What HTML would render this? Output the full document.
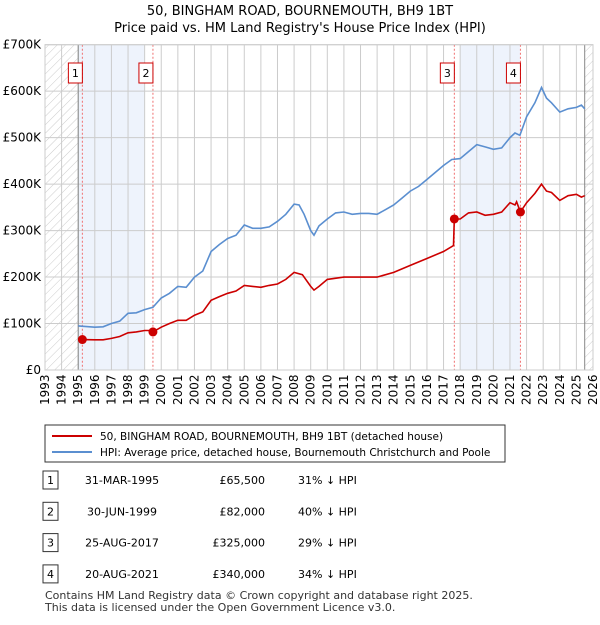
<!DOCTYPE html>
<html><head><meta charset="utf-8"><style>
body{margin:0;background:#fff;font-family:"Liberation Sans","DejaVu Sans",sans-serif;}
svg text{font-family:"DejaVu Sans","Liberation Sans",sans-serif;}
</style></head><body>
<svg id="c" width="600" height="620" xmlns="http://www.w3.org/2000/svg">
<defs><pattern id="hatch" width="6" height="6" patternUnits="userSpaceOnUse" patternTransform="rotate(45)"><line x1="0" y1="0" x2="0" y2="6" stroke="#ccc" stroke-width="1"/></pattern></defs>
<text x="300" y="15" text-anchor="middle" font-size="13">50, BINGHAM ROAD, BOURNEMOUTH, BH9 1BT</text>
<text x="300" y="32" text-anchor="middle" font-size="13">Price paid vs. HM Land Registry's House Price Index (HPI)</text>
<g id="plot"></g>
<rect x="45" y="425" width="460" height="37" fill="#fff" stroke="#333"/>
<line x1="52" y1="436" x2="92" y2="436" stroke="#cc0000" stroke-width="2"/>
<text x="100" y="440" font-size="10.5">50, BINGHAM ROAD, BOURNEMOUTH, BH9 1BT (detached house)</text>
<line x1="52" y1="452" x2="92" y2="452" stroke="#5b8fd0" stroke-width="2"/>
<text x="100" y="456" font-size="10.5">HPI: Average price, detached house, Bournemouth Christchurch and Poole</text>
<g id="table" font-size="11"></g>
<text x="45" y="599" font-size="11" fill="#333">Contains HM Land Registry data © Crown copyright and database right 2025.</text>
<text x="45" y="611" font-size="11" fill="#333">This data is licensed under the Open Government Licence v3.0.</text>
</svg>
<script>
const yTicks=[0,100,200,300,400,500,600,700];
const yTickLabels=["£0","£100K","£200K","£300K","£400K","£500K","£600K","£700K"];
const years=[1993,1994,1995,1996,1997,1998,1999,2000,2001,2002,2003,2004,2005,2006,2007,2008,2009,2010,2011,2012,2013,2014,2015,2016,2017,2018,2019,2020,2021,2022,2023,2024,2025,2026];
const hpiT=[1995.0,1996,1996.5,1997,1997.5,1998,1998.5,1999,1999.5,2000,2000.5,2001,2001.5,2002,2002.5,2003,2003.5,2004,2004.5,2005,2005.5,2006,2006.5,2007,2007.5,2008,2008.3,2008.6,2009,2009.2,2009.5,2010,2010.5,2011,2011.5,2012,2012.5,2013,2013.5,2014,2014.5,2015,2015.5,2016,2016.5,2017,2017.5,2018,2018.5,2019,2019.5,2020,2020.5,2021,2021.3,2021.6,2022,2022.5,2022.9,2023.2,2023.5,2024,2024.5,2025,2025.3,2025.5];
const hpiV=[95,92,93,100,105,122,123,130,135,155,165,180,178,200,213,255,270,283,290,312,305,305,308,320,335,357,355,335,300,290,310,325,338,340,335,337,337,335,345,355,370,385,395,410,425,440,453,455,470,485,480,475,478,500,510,505,545,575,608,585,575,555,562,565,570,562];
const ppT=[1995.25,1996,1996.5,1997,1997.5,1998,1998.5,1999,1999.4,1999.5,2000,2000.5,2001,2001.5,2002,2002.5,2003,2003.5,2004,2004.5,2005,2005.5,2006,2006.5,2007,2007.5,2008,2008.5,2009,2009.2,2009.5,2010,2011,2012,2013,2014,2015,2016,2017,2017.6,2017.65,2018,2018.5,2019,2019.5,2020,2020.5,2021,2021.3,2021.4,2021.63,2022,2022.5,2022.9,2023.2,2023.5,2024,2024.5,2025,2025.3,2025.5];
const ppV=[65.5,65,65,68,72,80,82,85,85,82,92,100,107,107,118,125,150,158,165,170,182,180,178,182,185,195,210,205,180,172,180,195,200,200,200,210,225,240,255,268,325,325,338,340,333,335,340,360,355,362,340,360,380,400,385,382,365,375,378,372,375];
const saleT=[1995.25,1999.5,2017.65,2021.63];
const saleV=[65.5,82,325,340];
const saleLabels=["1","2","3","4"];
const saleDates=["31-MAR-1995","30-JUN-1999","25-AUG-2017","20-AUG-2021"];
const salePrices=["£65,500","£82,000","£325,000","£340,000"];
const saleHpi=["31% ↓ HPI","40% ↓ HPI","29% ↓ HPI","34% ↓ HPI"];
const X0=45,X1=593,Y0=370,Y1=44.7;
const x=t=>X0+(t-1993)/(2026-1993)*(X1-X0);
const y=v=>Y0-v/700*(Y0-Y1);
const NS="http://www.w3.org/2000/svg";
const plot=document.getElementById('plot');
function mk(tag,attrs,parent){const e=document.createElementNS(NS,tag);for(const k in attrs)e.setAttribute(k,attrs[k]);(parent||plot).appendChild(e);return e;}
let s=mk('rect',{x:x(1995),y:Y1,width:x(1999)-x(1995),height:Y0-Y1,fill:'#eef3fc'});


s=mk('rect',{x:x(2018),y:Y1,width:x(2021.6)-x(2018),height:Y0-Y1,fill:'#eef3fc'});


s=mk('rect',{x:X0,y:Y1,width:x(1995)-X0,height:Y0-Y1,fill:'url(#hatch)'});


s=mk('rect',{x:x(2025.5),y:Y1,width:X1-x(2025.5),height:Y0-Y1,fill:'url(#hatch)'});


years.forEach(yr=>{mk('line',{x1:x(yr),x2:x(yr),y1:Y1,y2:Y0,stroke:'#ccc','stroke-width':1});
 const t=mk('text',{transform:`translate(${x(yr)+4},${Y0+35}) rotate(-90)`,'font-size':12});t.textContent=yr;
 
 });
yTicks.forEach((v,i)=>{mk('line',{x1:X0,x2:X1,y1:y(v),y2:y(v),stroke:'#ccc','stroke-width':1});
 const t=mk('text',{x:X0-4,y:y(v)+4,'text-anchor':'end','font-size':12});t.textContent=yTickLabels[i];
 
 });
mk('line',{x1:x(1995),x2:x(1995),y1:Y1,y2:Y0,stroke:'#888','stroke-width':1});
mk('line',{x1:x(2025.5),x2:x(2025.5),y1:Y1,y2:Y0,stroke:'#888','stroke-width':1});
saleT.forEach(t=>mk('line',{x1:x(t),x2:x(t),y1:Y1,y2:Y0,stroke:'#f07070','stroke-width':1,'stroke-dasharray':'2,2'}));
const path=(T,V)=>T.map((t,i)=>(i?'L':'M')+x(t).toFixed(1)+','+y(V[i]).toFixed(1)).join('');
let p=mk('path',{d:path(hpiT,hpiV),fill:'none',stroke:'#5b8fd0','stroke-width':1.6});


p=mk('path',{d:path(ppT,ppV),fill:'none',stroke:'#cc0000','stroke-width':1.6});


saleT.forEach((t,i)=>{const c=mk('circle',{cx:x(t),cy:y(saleV[i]),r:4.5,fill:'#cc0000'});
 
 
 const g=mk('g',{});
 
 
 mk('rect',{x:x(t)-14,y:63,width:14,height:20,fill:'#fff',stroke:'#cc0000'},g);
 const tx=mk('text',{x:x(t)-7,y:77,'text-anchor':'middle','font-size':11},g);tx.textContent=saleLabels[i];});
mk('rect',{x:X0,y:Y1,width:X1-X0,height:Y0-Y1,fill:'none',stroke:'#ccc'});
const tb=document.getElementById('table');
saleLabels.forEach((l,i)=>{const yy=482+i*31.3;
 const r=mk('g',{},tb);
 
 
 mk('rect',{x:43,y:yy-11,width:15,height:18,fill:'#fff',stroke:'#333'},r);
 let t=mk('text',{x:50.5,y:yy+2,'text-anchor':'middle'},r);t.textContent=l;
 t=mk('text',{x:122,y:yy+2,'text-anchor':'middle'},r);t.textContent=saleDates[i];
 t=mk('text',{x:265,y:yy+2,'text-anchor':'end'},r);t.textContent=salePrices[i];
 t=mk('text',{x:298,y:yy+2},r);t.textContent=saleHpi[i];});
</script>
</body></html>
